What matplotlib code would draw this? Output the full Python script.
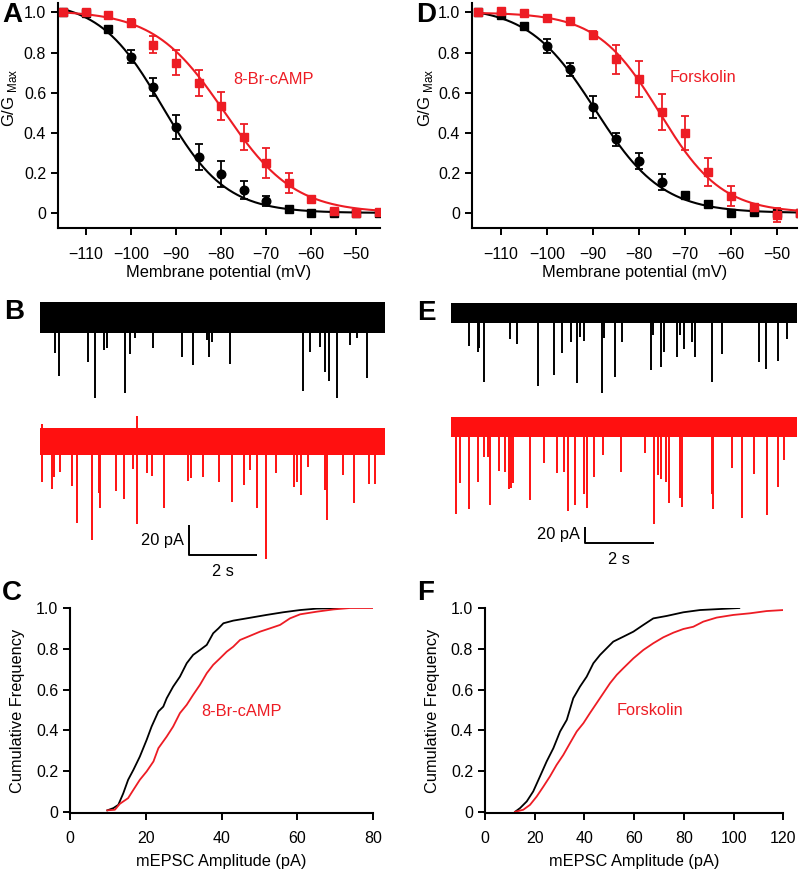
import numpy as np
import matplotlib
matplotlib.use("Agg")
from matplotlib import pyplot as plt

plt.rcParams['font.family'] = ['Liberation Sans', 'DejaVu Sans']
plt.rcParams['mathtext.fontset'] = 'custom'
plt.rcParams['mathtext.rm'] = 'Liberation Sans'
plt.rcParams['axes.unicode_minus'] = True

RED = '#ed1c24'
TRACE_RED = '#ff1010'

# ---- panel A / D : G/Gmax vs membrane potential ----
volt = [-115, -110, -105, -100, -95, -90, -85, -80, -75, -70, -65, -60, -55, -50, -45]

a_ctrl = [1.0, 0.995, 0.915, 0.779, 0.626, 0.427, 0.281, 0.194, 0.115, 0.06, 0.018, -0.002, 0.0, 0.0, 0.0]
a_ctrl_err = [0, 0, 0, 0.033, 0.045, 0.06, 0.065, 0.063, 0.045, 0.025, 0, 0, 0, 0, 0]
a_drug = [1.0, 1.003, 0.988, 0.945, 0.84, 0.75, 0.648, 0.533, 0.38, 0.25, 0.151, 0.068, 0.01, 0.0, 0.005]
a_drug_err = [0, 0, 0, 0.02, 0.04, 0.062, 0.067, 0.07, 0.064, 0.075, 0.05, 0, 0, 0, 0]

d_ctrl = [1.0, 0.985, 0.932, 0.832, 0.716, 0.527, 0.367, 0.259, 0.156, 0.09, 0.043, 0.0, 0.005, 0.0, 0.0]
d_ctrl_err = [0, 0, 0, 0.033, 0.033, 0.055, 0.033, 0.04, 0.04, 0, 0, 0, 0, 0, 0]
d_drug = [1.0, 1.007, 0.998, 0.973, 0.955, 0.885, 0.767, 0.668, 0.505, 0.397, 0.203, 0.085, 0.031, -0.01, 0.0]
d_drug_err = [0, 0, 0, 0, 0, 0.02, 0.072, 0.091, 0.09, 0.085, 0.07, 0.05, 0.015, 0.033, 0]

# Boltzmann fit parameters (amplitude, V1/2, slope)
a_ctrl_fit = (1.06, -93.0, 7.0)
a_drug_fit = (1.01, -79.3, 7.8)
d_ctrl_fit = (1.03, -89.5, 7.3)
d_drug_fit = (1.0, -75.5, 6.8)

# ---- panel B / E : example traces (event time s, amplitude pA) ----
b_ctrl_t = [0.44, 0.55, 1.40, 1.61, 1.88, 1.96, 2.51, 2.64, 2.79, 3.31, 4.17, 4.49, 4.90, 4.97,
            5.05, 5.59, 7.74, 7.93, 8.24, 8.38, 8.51, 8.75, 9.12, 9.34, 9.61]
b_ctrl_amp = [23.6, 38.9, 29.6, 54.0, 21.8, 20.7, 50.2, 24.4, 14.0, 20.2, 26.7, 31.8, 15.1, 26.7,
              16.2, 31.3, 49.3, 23.3, 19.6, 36.2, 42.2, 53.6, 18.4, 14.0, 40.2]
b_drug_t = [0.05, 0.36, 0.41, 0.59, 0.95, 1.10, 1.53, 1.73, 1.76, 2.24, 2.47, 2.73, 2.84, 3.14,
            3.30, 3.64, 4.34, 4.44, 4.81, 5.28, 5.66, 6.00, 6.19, 6.38, 6.64, 6.94, 7.48, 7.55,
            7.69, 7.89, 8.38, 8.44, 8.91, 9.24, 9.68, 9.87]
b_drug_amp = [27.1, 31.6, 23.3, 20.0, 29.3, 54.4, 65.6, 34.4, 44.4, 32.7, 37.8, 17.8, 55.1, 21.1,
              22.7, 44.0, 26.2, 23.8, 23.3, 27.1, 39.8, 28.9, 18.9, 44.0, 78.4, 20.7, 30.0, 27.1,
              35.6, 16.7, 32.2, 51.8, 22.2, 40.7, 27.8, 28.2]
b_drug_up_t = [0.05, 2.84]
b_drug_up_amp = [12.0, 17.0]

e_ctrl_t = [0.51, 0.77, 0.82, 0.97, 1.72, 1.91, 2.51, 3.00, 3.23, 3.48, 3.65, 3.75, 3.86, 4.37,
            4.44, 4.75, 4.96, 5.80, 5.87, 6.09, 6.18, 6.55, 6.65, 6.76, 6.99, 7.07, 7.57, 7.86,
            8.92, 9.13, 9.48, 9.74]
e_ctrl_amp = [40.8, 49.2, 44.2, 86.7, 32.9, 38.8, 91.3, 77.9, 50.4, 35.8, 87.9, 29.6, 35.0, 100.4,
              31.7, 79.6, 35.8, 71.3, 27.5, 67.9, 48.3, 54.6, 27.5, 45.4, 35.8, 54.6, 86.7, 51.3,
              60.8, 70.4, 60.0, 32.9]
e_drug_t = [0.14, 0.27, 0.53, 0.77, 0.97, 1.06, 1.14, 1.40, 1.57, 1.68, 1.74, 1.80, 2.30, 2.71,
            3.07, 3.29, 3.38, 3.60, 3.85, 3.94, 4.15, 4.42, 4.93, 5.63, 5.89, 5.99, 6.10, 6.23,
            6.33, 6.63, 6.71, 7.57, 7.59, 8.14, 8.43, 8.79, 9.17, 9.48, 9.64]
e_drug_amp = [109.6, 70.8, 103.3, 68.8, 37.5, 37.5, 98.3, 55.8, 56.3, 78.3, 77.1, 70.8, 91.7, 45.8,
              58.3, 56.3, 105.0, 97.9, 84.2, 101.3, 62.5, 35.0, 57.1, 33.3, 122.1, 60.4, 65.8, 68.8,
              95.8, 89.6, 100.0, 84.6, 103.3, 52.1, 114.6, 59.2, 110.8, 75.0, 41.7]

# ---- panel C / F : cumulative amplitude distributions ----
c_ctrl_x = [9.8, 11.4, 12.7, 14.0, 15.3, 16.7, 18.4, 20.2, 21.5, 23.3, 24.6, 25.5, 27.2, 29.0, 30.8,
            32.5, 34.3, 36.1, 37.8, 39.2, 40.5, 43.1, 46.6, 51.9, 56.3, 60.8, 65.2, 72.9]
c_ctrl_y = [0.007, 0.018, 0.034, 0.09, 0.157, 0.206, 0.271, 0.353, 0.418, 0.492, 0.516, 0.557, 0.614,
            0.663, 0.729, 0.77, 0.794, 0.819, 0.876, 0.9, 0.925, 0.938, 0.949, 0.966, 0.979, 0.99,
            0.997, 1.0]
c_drug_x = [9.8, 11.8, 13.1, 15.3, 16.7, 18.4, 20.2, 22.0, 23.3, 25.5, 27.2, 29.0, 30.8, 32.5, 34.3,
            36.1, 37.8, 39.6, 41.4, 43.1, 44.9, 47.5, 50.2, 52.8, 55.5, 58.1, 60.8, 65.2, 69.6,
            74.0, 80.0]
c_drug_y = [0.007, 0.01, 0.039, 0.067, 0.108, 0.157, 0.198, 0.247, 0.312, 0.369, 0.418, 0.484, 0.525,
            0.574, 0.623, 0.68, 0.721, 0.753, 0.786, 0.81, 0.843, 0.863, 0.884, 0.9, 0.917, 0.949,
            0.969, 0.982, 0.993, 1.0, 1.0]
f_ctrl_x = [12.1, 14.1, 16.8, 19.4, 22.1, 24.8, 27.5, 30.2, 32.9, 35.5, 38.2, 40.9, 43.6, 46.3, 48.9,
            51.6, 55.6, 59.7, 63.7, 67.7, 73.1, 79.8, 86.5, 94.5, 102.3]
f_ctrl_y = [0.0, 0.018, 0.051, 0.1, 0.173, 0.247, 0.312, 0.394, 0.451, 0.557, 0.614, 0.663, 0.729,
            0.77, 0.802, 0.835, 0.859, 0.884, 0.917, 0.949, 0.961, 0.979, 0.99, 0.995, 1.0]
f_drug_x = [12.1, 15.4, 18.1, 20.8, 23.5, 26.1, 28.8, 31.5, 34.2, 36.9, 39.6, 42.2, 44.9, 47.6, 50.3,
            53.0, 55.6, 59.7, 63.7, 67.7, 71.7, 75.8, 79.8, 83.8, 87.8, 93.2, 99.9, 106.6, 113.3, 120.0]
f_drug_y = [0.0, 0.01, 0.034, 0.075, 0.124, 0.173, 0.23, 0.279, 0.337, 0.394, 0.435, 0.484, 0.533,
            0.582, 0.631, 0.672, 0.704, 0.753, 0.794, 0.827, 0.856, 0.879, 0.897, 0.908, 0.933,
            0.953, 0.966, 0.974, 0.985, 0.99]

W, H = 800, 873
fig = plt.figure(figsize=(W / 100, H / 100), dpi=100)


def px_axes(l, t, r, b):
    return fig.add_axes([l / W, 1 - b / H, (r - l) / W, (b - t) / H])


def boltz(v, p):
    amp, vh, k = p
    return amp / (1 + np.exp((v - vh) / k))


def style_axes(ax):
    for s in ['top', 'right']:
        ax.spines[s].set_visible(False)
    for s in ['left', 'bottom']:
        ax.spines[s].set_linewidth(1.5)
    ax.tick_params(direction='out', length=5, width=1.4, labelsize=11.5)


def gv_panel(ax, ctrl, ctrl_err, drug, drug_err, fit_c, fit_d, label, lab_xy, xlim):
    vv = np.linspace(-115, -45, 300)
    ax.plot(vv, boltz(vv, fit_c), color='black', lw=1.5, zorder=2)
    ax.plot(vv, boltz(vv, fit_d), color=RED, lw=1.5, zorder=4)
    for v, y, e in zip(volt, ctrl, ctrl_err):
        mk = 'o' if e > 0 else 's'
        ax.errorbar(v, y, yerr=e if e > 0 else None, fmt=mk, color='black', ms=6.2,
                    capsize=2.8, elinewidth=1.3, capthick=1.3, zorder=3)
    ax.errorbar(volt, drug, yerr=drug_err, fmt='s', color=RED, ms=6.2,
                capsize=2.8, elinewidth=1.3, capthick=1.3, zorder=5)
    ax.set_xlim(*xlim)
    ax.set_ylim(-0.075, 1.047)
    ax.set_xticks([-110, -100, -90, -80, -70, -60, -50])
    ax.set_yticks([0, 0.2, 0.4, 0.6, 0.8, 1.0])
    ax.set_yticklabels(['0', '0.2', '0.4', '0.6', '0.8', '1.0'])
    style_axes(ax)
    ax.tick_params(axis='x', pad=9)
    ax.set_xlabel('Membrane potential (mV)', fontsize=11.8, labelpad=2)
    ax.set_ylabel('G/G$_{\\rm\\ Max}$', fontsize=12)
    ax.text(lab_xy[0], lab_xy[1], label, color=RED, fontsize=11.8, ha='left', va='center')


def trace_panel(ax, tr, c_t, c_a, d_t, d_a, offset, halfs, scale_xy, pa_px, up_t=None, up_a=None):
    ax.axis('off')
    ax.fill_between([0, tr], [-halfs[0]] * 2, [halfs[0]] * 2, color='black', lw=0)
    ax.vlines(c_t, 0, -np.array(c_a), color='black', lw=1.4)
    ax.fill_between([0, tr], [offset - halfs[1]] * 2, [offset + halfs[1]] * 2, color=TRACE_RED, lw=0)
    ax.vlines(d_t, offset, offset - np.array(d_a), color=TRACE_RED, lw=1.4)
    if up_t is not None:
        ax.vlines(up_t, offset, offset + np.array(up_a), color=TRACE_RED, lw=1.4)
    sx, sy = scale_xy
    ax.plot([sx, sx, sx + 2], [sy + 20, sy, sy], color='black', lw=1.4, solid_capstyle='butt')
    ax.text(sx - 0.15, sy + 10, '20 pA', fontsize=11.8, ha='right', va='center')
    ax.text(sx + 1, sy - 6 * 1.5 / pa_px, '2 s', fontsize=11.8, ha='center', va='top')


def cum_panel(ax, cx, cy, dx, dy, label, lab_xy, xmax, xt):
    ax.plot(cx, cy, color='black', lw=1.3)
    ax.plot(dx, dy, color=RED, lw=1.3)
    ax.set_xlim(0, xmax)
    ax.set_ylim(-0.006, 1.0)
    ax.set_xticks(xt)
    ax.set_yticks([0, 0.2, 0.4, 0.6, 0.8, 1.0])
    ax.set_yticklabels(['0', '0.2', '0.4', '0.6', '0.8', '1.0'])
    style_axes(ax)
    ax.tick_params(axis='x', pad=8)
    ax.set_xlabel('mEPSC Amplitude (pA)', fontsize=11.8, labelpad=6)
    ax.set_ylabel('Cumulative Frequency', fontsize=11.8)
    ax.yaxis.set_label_coords(-0.15, 0.5)
    ax.text(lab_xy[0], lab_xy[1], label, color=RED, fontsize=11.8, ha='left', va='center')


# A
axA = px_axes(58, 3, 380, 228)
gv_panel(axA, a_ctrl, a_ctrl_err, a_drug, a_drug_err, a_ctrl_fit, a_drug_fit,
         '8-Br-cAMP', (-77.3, 0.668), (-116.2, -44.7))
axA.yaxis.set_label_coords(-0.12, 0.578)

# D
axD = px_axes(472, 3, 797, 228)
gv_panel(axD, d_ctrl, d_ctrl_err, d_drug, d_drug_err, d_ctrl_fit, d_drug_fit,
         'Forskolin', (-73.4, 0.677), (-116.3, -45.6))
axD.yaxis.set_label_coords(-0.115, 0.578)

# B
axB = px_axes(40, 290, 385, 575)
axB.set_xlim(0, 10.15)
axB.set_ylim(-171.8, 18.2)
trace_panel(axB, 10.15, b_ctrl_t, b_ctrl_amp, b_drug_t, b_drug_amp, -83.0, (10.3, 9.0),
            (4.38, -158.5), 1.5, b_drug_up_t, b_drug_up_amp)

# E
axE = px_axes(451, 290, 797, 575)
axE.set_xlim(0, 10.03)
axE.set_ylim(-327.5, 28.75)
trace_panel(axE, 10.03, e_ctrl_t, e_ctrl_amp, e_drug_t, e_drug_amp, -142.0, (12.5, 12.5),
            (3.88, -287.5), 0.8)

# C
axC = px_axes(70.3, 608, 372.7, 813)
cum_panel(axC, c_ctrl_x, c_ctrl_y, c_drug_x, c_drug_y, '8-Br-cAMP', (34.6, 0.49),
          80, [0, 20, 40, 60, 80])

# F
axF = px_axes(485, 608, 783.3, 813)
cum_panel(axF, f_ctrl_x, f_ctrl_y, f_drug_x, f_drug_y, 'Forskolin', (53.0, 0.497),
          120, [0, 20, 40, 60, 80, 100, 120])

# panel letters
for lab, x, y in [('A', 2, 14.5), ('B', 4, 312), ('C', 2, 593),
                  ('D', 416, 15), ('E', 417, 313), ('F', 417, 593)]:
    fig.text(x / W, 1 - y / H, lab, fontsize=20, fontweight='bold', ha='left', va='center')

fig.savefig('out.png', dpi=100)
